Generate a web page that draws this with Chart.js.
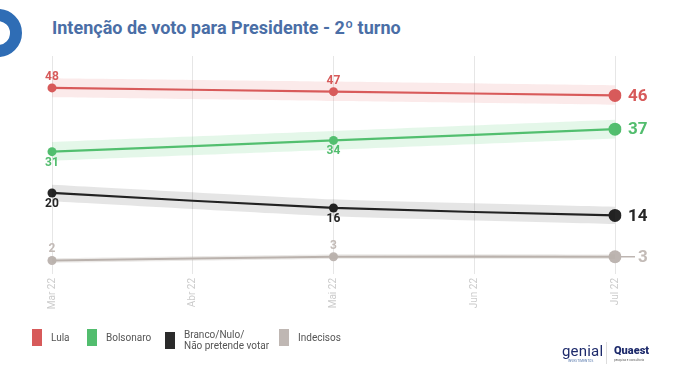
<!DOCTYPE html>
<html>
<head>
<meta charset="utf-8">
<script src="https://cdn.jsdelivr.net/npm/chart.js@4"></script>
<style>
  body { margin: 0; width: 680px; height: 383px; background: #fff; font-family: Roboto, 'Noto Sans', sans-serif; position: relative; overflow: hidden; }
  .ring { position: absolute; left: -26px; top: 9px; width: 24px; height: 24px; border: 12px solid #2f6db5; border-radius: 50%; }
  h1 { position: absolute; left: 52px; top: 17px; margin: 0; font-size: 18px; font-weight: 700; color: #4a6ea6; white-space: nowrap; }
  #wrap { position: absolute; left: 0; top: 0; width: 680px; height: 383px; }
  .legend { position: absolute; top: 329px; left: 0; font-size: 10px; color: #555; }
  .legend .item { position: absolute; display: flex; align-items: center; white-space: nowrap; }
  .legend .box { width: 10px; height: 17px; margin-right: 9px; }
  .legend .txt { line-height: 11px; }
  .logos { position: absolute; top: 340px; left: 556px; color: #1d2a6b; white-space: nowrap; }
  .genial { position: absolute; left: 6px; top: 2px; font-size: 15px; font-weight: 400; letter-spacing: 0.2px; }
  .genial small { position: absolute; left: 6px; top: 17px; font-size: 3px; color: #4a6ea6; }
  .sep { position: absolute; left: 50px; top: 2px; width: 1px; height: 22px; background: #ddd; }
  .quaest { position: absolute; left: 58px; top: 4px; font-size: 11px; font-weight: 900; }
  .quaest small { position: absolute; left: 0; top: 14px; font-size: 3px; font-weight: 400; color: #666; }
</style>
</head>
<body>
<div class="ring"></div>
<h1>Intenção de voto para Presidente - 2º turno</h1>
<div id="wrap"><canvas id="chart"></canvas></div>
<div class="legend">
  <div class="item" style="left:32px"><div class="box" style="background:#d75a5a"></div><div class="txt">Lula</div></div>
  <div class="item" style="left:87px"><div class="box" style="background:#52bd6e"></div><div class="txt">Bolsonaro</div></div>
  <div class="item" style="left:165px"><div class="box" style="background:#2b2b2b"></div><div class="txt">Branco/Nulo/<br>Não pretende votar</div></div>
  <div class="item" style="left:279px"><div class="box" style="background:#bfb7b3"></div><div class="txt">Indecisos</div></div>
</div>
<div class="logos">
  <div class="genial">genial<small>INVESTIMENTOS</small></div>
  <div class="sep"></div>
  <div class="quaest">Quaest<small>pesquisa e consultoria</small></div>
</div>
<script>
// months on the x axis (points only at Mar, Mai, Jul)
const months = ['Mar 22', 'Abr 22', 'Mai 22', 'Jun 22', 'Jul 22'];

const lula = [48, null, 47, null, 46];
const bolsonaro = [31, null, 34, null, 37];
const branco = [20, null, 16, null, 14];
const indecisos = [2, null, 3, null, 3];

// shaded bands
const lulaUpper = [50.6, null, 49.7, null, 48.7];
const lulaLower = [45.5, null, 44.5, null, 43.5];
const bolsonaroUpper = [33.6, null, 36.5, null, 39.5];
const bolsonaroLower = [28.6, null, 31.5, null, 34.5];
const brancoUpper = [22.2, null, 18.3, null, 16.3];
const brancoLower = [17.8, null, 13.8, null, 11.7];
const indecisosUpper = [2.6, null, 3.6, null, 3.6];
const indecisosLower = [1.4, null, 2.4, null, 2.4];

const series = [
  { name: 'Lula', data: lula, up: lulaUpper, lo: lulaLower, color: '#d75a5a', band: 'rgba(222,90,90,0.13)', label: '#d75a5a', pos: ['above', null, 'above'] },
  { name: 'Bolsonaro', data: bolsonaro, up: bolsonaroUpper, lo: bolsonaroLower, color: '#52bd6e', band: 'rgba(90,205,120,0.16)', label: '#52bd6e', pos: ['below', null, 'below'] },
  { name: 'Branco/Nulo', data: branco, up: brancoUpper, lo: brancoLower, color: '#262626', band: 'rgba(0,0,0,0.10)', label: '#262626', pos: ['below', null, 'below'] },
  { name: 'Indecisos', data: indecisos, up: indecisosUpper, lo: indecisosLower, color: '#bdb5b1', band: 'rgba(180,170,165,0.25)', label: '#c3bbb7', pos: ['above', null, 'above'], leader: true }
];

const datasets = [];
series.forEach(s => {
  datasets.push({ data: s.up, borderWidth: 0, pointRadius: 0, fill: '+1', backgroundColor: s.band, spanGaps: true, tension: 0.2, isBand: true });
  datasets.push({ data: s.lo, borderWidth: 0, pointRadius: 0, fill: false, spanGaps: true, tension: 0.2, isBand: true });
});
series.forEach(s => {
  datasets.push({
    label: s.name, data: s.data, borderColor: s.color, backgroundColor: s.color,
    borderWidth: 2.2, spanGaps: true, tension: 0.2,
    pointRadius: s.data.map((v, i) => i === s.data.length - 1 ? 6.5 : 4.5),
    pointBorderWidth: 0, series: s
  });
});

const valueLabels = {
  id: 'valueLabels',
  afterDatasetsDraw(chart) {
    const ctx = chart.ctx;
    chart.data.datasets.forEach((ds, di) => {
      if (!ds.series) return;
      const s = ds.series;
      const meta = chart.getDatasetMeta(di);
      meta.data.forEach((pt, i) => {
        const v = ds.data[i];
        if (v == null) return;
        ctx.save();
        ctx.fillStyle = s.label;
        if (i === ds.data.length - 1) {
          let x = pt.x + 13;
          if (s.leader) {
            ctx.strokeStyle = s.color;
            ctx.lineWidth = 1.5;
            ctx.beginPath();
            ctx.moveTo(pt.x + 6, pt.y);
            ctx.lineTo(pt.x + 20, pt.y);
            ctx.stroke();
            x = pt.x + 23;
          }
          ctx.font = 'bold 17px Roboto';
          ctx.textAlign = 'left';
          ctx.textBaseline = 'middle';
          ctx.fillText(v, x, pt.y + 1);
        } else {
          ctx.font = 'bold 12px Roboto';
          ctx.textAlign = 'center';
          ctx.textBaseline = 'middle';
          const dy = s.pos[i] === 'above' ? -11 : 11;
          ctx.fillText(v, pt.x, pt.y + dy);
        }
        ctx.restore();
      });
    });
  }
};

new Chart(document.getElementById('chart').getContext('2d'), {
  type: 'line',
  data: { labels: months, datasets: datasets },
  options: {
    responsive: true,
    maintainAspectRatio: false,
    animation: false,
    layout: { padding: { left: 52, right: 65, top: 56, bottom: 65 } },
    plugins: { legend: { display: false }, tooltip: { enabled: false } },
    scales: {
      x: {
        offset: false,
        grid: { color: '#e6e6e6', tickLength: 6, drawOnChartArea: true },
        border: { display: false },
        ticks: { color: '#cccccc', font: { size: 10, family: 'Roboto' }, minRotation: 90, maxRotation: 90, padding: 4 },
        afterFit(scale) { scale.height = 50; }
      },
      y: { display: false, min: 0, max: 56.5 }
    }
  },
  plugins: [valueLabels]
});
</script>
</body>
</html>
